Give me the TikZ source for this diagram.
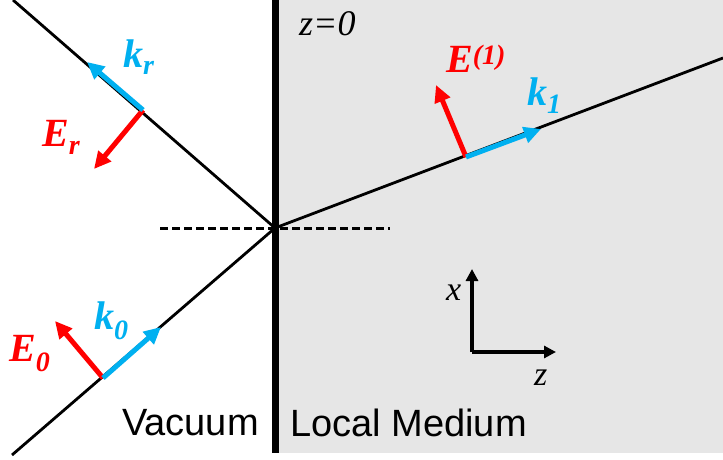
\documentclass[tikz,border=0pt]{standalone}
\usepackage{fontspec}
\setmainfont{Liberation Serif}
\newfontfamily\arialfont{Liberation Sans}
\usetikzlibrary{arrows.meta}
\definecolor{kblue}{RGB}{0,176,240}
\definecolor{ered}{RGB}{255,0,0}
\definecolor{medgray}{RGB}{230,230,230}
\newcommand\vlab[3]{{\bfseries\itshape\fontsize{40}{40}\selectfont #1\raisebox{#3}{\fontsize{28}{28}\selectfont #2}}}
\begin{document}
\begin{tikzpicture}[x=1pt,y=-1pt,
  ray/.style={line width=2.8pt,black},
  wavevec/.style={line width=5pt,kblue,-{Triangle[length=17pt,width=16pt]}},
  fieldvec/.style={line width=5pt,ered,-{Triangle[length=17pt,width=16pt]}},
  axisvec/.style={line width=3.5pt,black,-{Triangle[length=12pt,width=12pt]}},
  lab/.style={inner sep=0pt,anchor=base west}]
\useasboundingbox (0,0) rectangle (723,460);
\fill[white] (0,0) rectangle (723,460);
\fill[medgray] (278,0) rectangle (723,453);
% interface
\coordinate (O) at (275,228);
\coordinate (Itop) at (275,0);
\coordinate (Ibot) at (275,453);
\draw[line width=7pt] (Itop) -- (Ibot);
% normal
\coordinate (Nl) at (160,228);
\coordinate (Nr) at (390,228);
\draw[line width=3pt,dash pattern=on 8pt off 4pt] (Nl) -- (Nr);
% rays
\coordinate (Rend) at (13,0);
\coordinate (Iend) at (12,455);
\coordinate (Tend) at (723,58);
\draw[ray] (Iend) -- (O);
\draw[ray] (Rend) -- (O);
\draw[ray] (O) -- (Tend);
% incident vectors
\coordinate (P0) at (103,378);
\coordinate (K0) at (161,327);
\coordinate (E0) at (55,321);
\draw[fieldvec] (P0) -- (E0);
\draw[wavevec] (P0) -- (K0);
% reflected vectors
\coordinate (Pr) at (143,110);
\coordinate (Kr) at (87,62);
\coordinate (Er) at (94,169);
\draw[fieldvec] (Pr) -- (Er);
\draw[wavevec] (Pr) -- (Kr);
% transmitted vectors
\coordinate (P1) at (466,157);
\coordinate (K1) at (541,129);
\coordinate (E1) at (436,85);
\draw[fieldvec] (P1) -- (E1);
\draw[wavevec] (P1) -- (K1);
% labels
\node[lab,text=kblue] (lkr) at (123,67) {\vlab{k}{r}{-7pt}};
\node[lab,text=ered] (ler) at (42,146) {\vlab{E}{r}{-8pt}};
\node[lab,text=kblue] (lk0) at (94,329) {\vlab{k}{0}{-10pt}};
\node[lab,text=ered] (le0) at (9,361) {\vlab{E}{0}{-10pt}};
\node[lab,text=kblue] (lk1) at (527,106) {\vlab{k}{1}{-8pt}};
\node[lab,text=ered] (le1) at (446,73) {\vlab{E}{(1)}{9pt}};
\node[lab] (lz0) at (299,36) {\itshape\fontsize{36}{36}\selectfont z=0};
% axes
\coordinate (Ac) at (472,352);
\coordinate (Ax) at (472,269);
\coordinate (Az) at (556,352);
\draw[axisvec] (Ac) -- (Ax);
\draw[axisvec] (Ac) -- (Az);
\node[lab] (lx) at (446,300) {\itshape\fontsize{34}{34}\selectfont x};
\node[lab] (lz) at (534,385) {\itshape\fontsize{34}{34}\selectfont z};
% media
\node[lab] (lvac) at (122,435) {\arialfont\fontsize{38}{38}\selectfont Vacuum};
\node[lab] (lmed) at (290,436) {\arialfont\fontsize{38}{38}\selectfont Local Medium};
\end{tikzpicture}
\end{document}
